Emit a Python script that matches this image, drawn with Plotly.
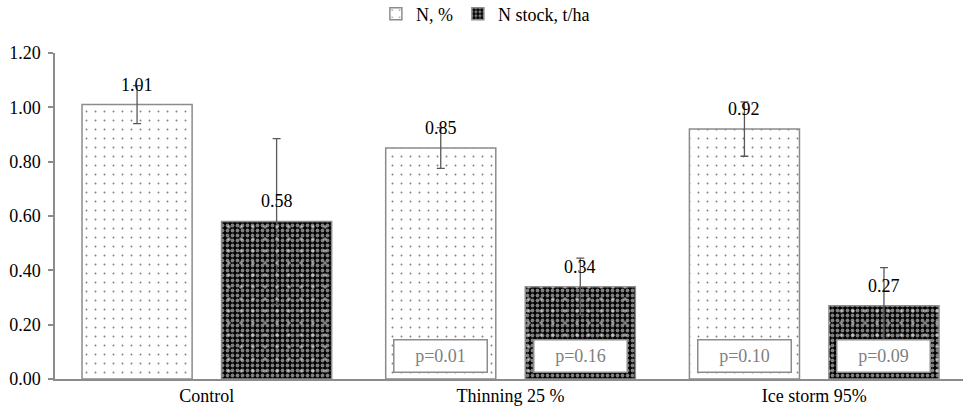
import plotly.graph_objects as go

categories = ["Control", "Thinning 25 %", "Ice storm 95%"]
n_pct = [1.01, 0.85, 0.92]
n_pct_err = [0.07, 0.075, 0.10]
n_stock = [0.58, 0.34, 0.27]
n_stock_err = [0.305, 0.105, 0.14]
p_n_pct = [None, "p=0.01", "p=0.10"]
p_n_stock = [None, "p=0.16", "p=0.09"]
y_ticks = [0.0, 0.2, 0.4, 0.6, 0.8, 1.0, 1.2]

FONT = "Liberation Serif"
FS = 18
GRAY = "#8c8c8c"
BARGAP = 0.081
OFF = (1 - BARGAP) / 4

fig = go.Figure()
fig.add_trace(go.Bar(
    name="N, %", x=categories, y=n_pct, offsetgroup="a",
    error_y=dict(type="data", array=n_pct_err, color="#595959", thickness=1.3, width=4),
    marker=dict(color="white", line=dict(color=GRAY, width=1.5),
                pattern=dict(shape=".", size=9, solidity=0.035, fgcolor="black",
                             bgcolor="white", fillmode="overlay")),
    hoverinfo="skip"))
fig.add_trace(go.Bar(
    name="N stock, t/ha", x=categories, y=n_stock, offsetgroup="b",
    error_y=dict(type="data", array=n_stock_err, color="#595959", thickness=1.3, width=4),
    marker=dict(color="black", line=dict(color=GRAY, width=1.5),
                pattern=dict(shape=".", size=5, solidity=0.45, fgcolor="white",
                             bgcolor="black", fillmode="overlay")),
    hoverinfo="skip"))
# white spots overlay on the checker pattern
fig.add_trace(go.Bar(
    x=categories, y=n_stock, offsetgroup="b", showlegend=False,
    marker=dict(color="rgba(0,0,0,0)", line=dict(width=0),
                pattern=dict(shape=".", size=12, solidity=0.07, fgcolor="white",
                             bgcolor="rgba(0,0,0,0)", fillmode="overlay")),
    hoverinfo="skip"))

annotations = []
for i in range(len(categories)):
    for val, off in ((n_pct[i], -OFF), (n_stock[i], OFF)):
        annotations.append(dict(x=i + off, y=val, xref="x", yref="y", text=f"{val:.2f}",
                                showarrow=False, yshift=20, yanchor="middle",
                                font=dict(family=FONT, size=FS, color="black")))
    for ptxt, off in ((p_n_pct[i], -OFF), (p_n_stock[i], OFF)):
        if ptxt:
            annotations.append(dict(x=i + off, y=0.085, xref="x", yref="y", text=ptxt,
                                    showarrow=False, width=88, height=27, borderpad=2,
                                    bordercolor=GRAY, borderwidth=1.5, bgcolor="white",
                                    font=dict(family=FONT, size=FS, color="#7f7f7f")))

fig.update_layout(
    width=963, height=412,
    margin=dict(l=55, r=0, t=53, b=33),
    paper_bgcolor="white", plot_bgcolor="white",
    barmode="group", bargap=BARGAP, bargroupgap=0.211,
    font=dict(family=FONT, size=FS, color="black"),
    showlegend=True,
    legend=dict(orientation="h", x=0.474, xanchor="center",
                yref="container", y=1 - 14 / 412, yanchor="middle",
                font=dict(family=FONT, size=FS, color="black"), bgcolor="rgba(0,0,0,0)"),
    annotations=annotations,
)
fig.update_xaxes(type="category", range=[-0.5, 2.49], showline=True, linecolor=GRAY,
                 linewidth=1.5, ticks="", showgrid=False,
                 tickfont=dict(family=FONT, size=FS, color="black"))
fig.update_yaxes(range=[0, 1.2], tickvals=y_ticks, ticktext=[f"{v:.2f}" for v in y_ticks],
                 showline=True, linecolor=GRAY, linewidth=1.5, ticks="outside", ticklen=5,
                 tickcolor=GRAY, tickwidth=1.5, showgrid=False, zeroline=False,
                 ticklabelstandoff=4,
                 tickfont=dict(family=FONT, size=FS, color="black"))

fig.write_html("out.html")
